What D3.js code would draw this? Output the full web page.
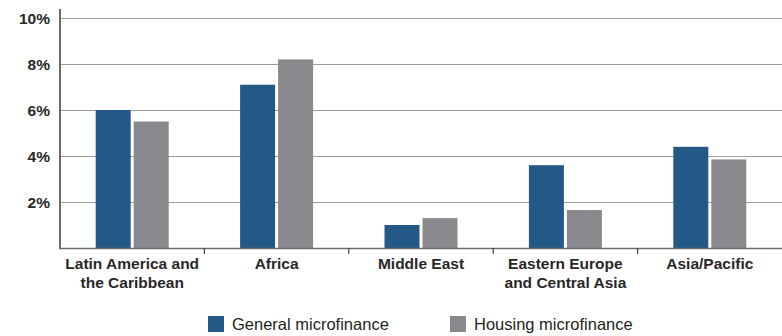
<!DOCTYPE html>
<html lang="en">
<meta charset="utf-8"/>
<head>
<style>
	body { margin: 0; background: #ffffff; }
	svg { display: block; }
	.tick-lbl, .cat-lbl { font-family: "Liberation Sans", Arial, sans-serif; font-weight: bold; fill: #2a2728; }
	.tick-lbl { font-size: 15.5px; }
	.cat-lbl { font-size: 15.5px; }
	.leg-lbl { font-family: "Liberation Sans", Arial, sans-serif; fill: #231f20; font-size: 16.5px; }
</style>
</head>
<body>
<svg id="chart" width="782" height="336"></svg>

<script src="https://d3js.org/d3.v7.min.js"></script>
<script>
// data
let regions = [
	["Latin America and", "the Caribbean"],
	["Africa"],
	["Middle East"],
	["Eastern Europe", "and Central Asia"],
	["Asia/Pacific"]
]
let seriesNames = ["General microfinance", "Housing microfinance"]
let general = [6.0, 7.1, 1.0, 3.6, 4.4]
let housing = [5.5, 8.2, 1.3, 1.65, 3.85]
let yTicks = [2, 4, 6, 8, 10]
let colors = ["#245987", "#89888d"]

let svg = d3.select("#chart")
let padLeft = 60, padRight = 782, padTop = 18, padBottom = 248

let xScale = d3.scaleBand()
	.domain(d3.range(regions.length))
	.range([padLeft, padRight])

let yScale = d3.scaleLinear()
	.domain([0, 10])
	.range([padBottom, padTop])

// gridlines
svg.append("g")
	.selectAll("line")
	.data(yTicks)
	.enter()
	.append("line")
	.attr("x1", padLeft)
	.attr("x2", padRight)
	.attr("y1", d => yScale(d) + 0.5)
	.attr("y2", d => yScale(d) + 0.5)
	.attr("stroke", "#9d9d9d")
	.attr("stroke-width", 1.2)

// tick labels on the left
svg.append("g")
	.selectAll("text")
	.data(yTicks)
	.enter()
	.append("text")
	.attr("class", "tick-lbl")
	.attr("x", 50)
	.attr("y", d => yScale(d) + 5.5)
	.attr("text-anchor", "end")
	.text(d => d + "%")

// bars
let barW = 35, gap = 3
let series = [general, housing]
series.forEach((vals, s) => {
	svg.append("g")
		.selectAll("rect")
		.data(vals)
		.enter()
		.append("rect")
		.attr("x", (d, i) => xScale(i) + xScale.bandwidth() / 2 - barW - gap / 2 + s * (barW + gap))
		.attr("y", d => yScale(d))
		.attr("width", barW)
		.attr("height", d => padBottom - yScale(d))
		.attr("fill", colors[s])
})

// axes
svg.append("line")
	.attr("x1", padLeft).attr("x2", padLeft)
	.attr("y1", padTop - 9).attr("y2", padBottom + 1)
	.attr("stroke", "#6b6b6b").attr("stroke-width", 2)

svg.append("line")
	.attr("x1", padLeft - 1).attr("x2", padRight)
	.attr("y1", padBottom + 0.5).attr("y2", padBottom + 0.5)
	.attr("stroke", "#6b6b6b").attr("stroke-width", 1.5)

svg.append("g")
	.selectAll("line")
	.data(d3.range(1, regions.length))
	.enter()
	.append("line")
	.attr("x1", d => xScale(d)).attr("x2", d => xScale(d))
	.attr("y1", padBottom).attr("y2", padBottom + 6)
	.attr("stroke", "#444").attr("stroke-width", 1.2)

// category labels
let cat = svg.append("g")
	.selectAll("text")
	.data(regions)
	.enter()
	.append("text")
	.attr("class", "cat-lbl")
	.attr("text-anchor", "middle")
	.attr("x", (d, i) => xScale(i) + xScale.bandwidth() / 2)
	.attr("y", 269)

cat.selectAll("tspan")
	.data(d => d)
	.enter()
	.append("tspan")
	.attr("x", function () { return d3.select(this.parentNode).attr("x") })
	.attr("dy", (d, i) => i == 0 ? 0 : 19)
	.text(d => d)

// legend
let legX = [208, 450]
let leg = svg.append("g")
	.selectAll("g")
	.data(seriesNames)
	.enter()
	.append("g")
	.attr("transform", (d, i) => "translate(" + legX[i] + ",316)")

leg.append("rect")
	.attr("width", 16)
	.attr("height", 16)
	.attr("fill", (d, i) => colors[i])

leg.append("text")
	.attr("class", "leg-lbl")
	.attr("x", 24)
	.attr("y", 14)
	.text(d => d)
</script>
</body>
</html>
